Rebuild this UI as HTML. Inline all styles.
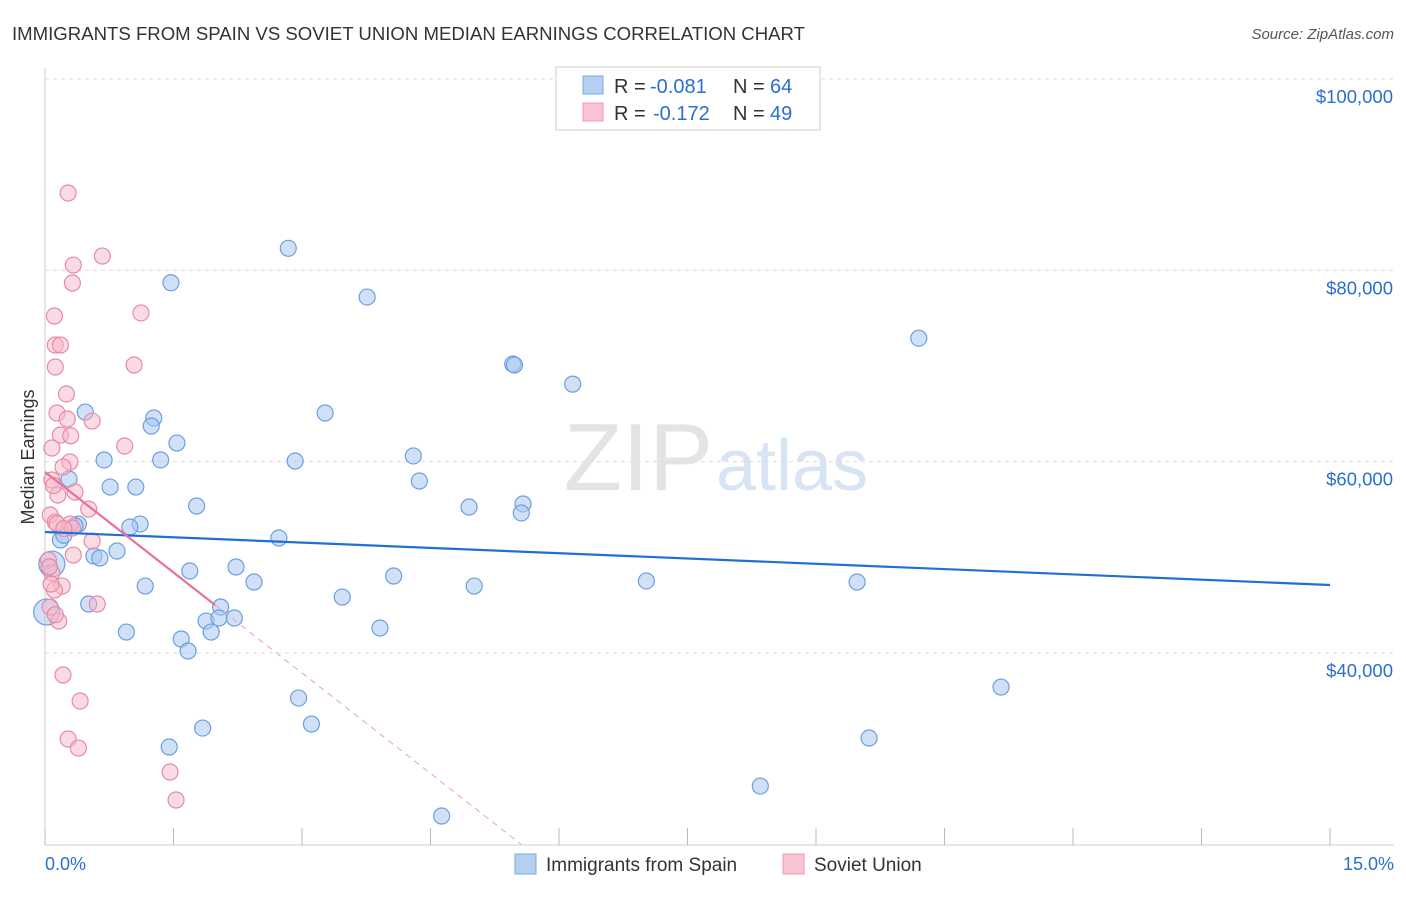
<!DOCTYPE html>
<html><head><meta charset="utf-8"><style>
body{margin:0;background:#fff;font-family:"Liberation Sans",sans-serif}
svg text{font-family:"Liberation Sans",sans-serif}
</style></head><body>
<svg id="c" width="1406" height="892">
<text x="12" y="40" font-size="18" fill="#333" textLength="793" lengthAdjust="spacingAndGlyphs">IMMIGRANTS FROM SPAIN VS SOVIET UNION MEDIAN EARNINGS CORRELATION CHART</text>
<text x="1394" y="39" font-size="15" fill="#555" text-anchor="end" font-style="italic">Source: ZipAtlas.com</text>
<text x="713" y="490" font-size="96" fill="#e4e4e4" text-anchor="end" font-family="Liberation Serif">ZIP</text>
<text x="716" y="490" font-size="72" fill="#d6e4f4">atlas</text>
<text x="34" y="457" font-size="18" fill="#333" text-anchor="middle" transform="rotate(-90 34 457)">Median Earnings</text>
<g id="grid"></g><g id="marks"></g>
<rect x="556" y="67" width="264" height="63" fill="#fff" stroke="#ccc"/>
<rect x="583" y="76" width="20" height="18" fill="#b4cff2" stroke="#7aa8e4"/>
<rect x="583" y="103" width="20" height="18" fill="#f8c4d2" stroke="#ec9ab4"/>
<text x="614" y="93" font-size="20" fill="#333">R =</text>
<text x="650" y="93" font-size="20" fill="#2a6fd0">-0.081</text>
<text x="733" y="93" font-size="20" fill="#333">N =</text>
<text x="770" y="93" font-size="20" fill="#2a6fd0">64</text>
<text x="614" y="120" font-size="20" fill="#333">R =</text>
<text x="653" y="120" font-size="20" fill="#2a6fd0">-0.172</text>
<text x="733" y="120" font-size="20" fill="#333">N =</text>
<text x="770" y="120" font-size="20" fill="#2a6fd0">49</text>
<rect x="515" y="854" width="21" height="20" fill="#b4cff2" stroke="#7aa8e4"/>
<text x="546" y="871" font-size="19" fill="#333">Immigrants from Spain</text>
<rect x="783" y="854" width="21" height="20" fill="#f8c4d2" stroke="#ec9ab4"/>
<text x="814" y="871" font-size="19" fill="#333">Soviet Union</text>
<text x="45" y="870" font-size="18" fill="#2a6fd0">0.0%</text>
<text x="1394" y="870" font-size="18" fill="#2a6fd0" text-anchor="end">15.0%</text>
</svg>
<script>
const yTicks=[100000,80000,60000,40000];
const yTickLabels=["$100,000","$80,000","$60,000","$40,000"];
const xTicks=[0,1.5,3,4.5,6,7.5,9,10.5,12,13.5,15];
const spainX=[2.84,1.47,3.76,10.20,5.46,6.16,0.47,3.27,1.27,1.24,1.54,0.69,1.35,2.92,4.30,4.37,0.76,1.06,0.28,4.95,5.58,5.56,1.77,0.39,1.11,0.99,2.73,0.18,0.08,0.84,0.57,0.64,2.23,1.69,4.07,2.44,1.17,5.01,7.02,9.48,3.47,0.51,2.05,0.02,1.88,2.21,2.03,0.95,1.59,3.91,1.94,1.67,11.16,2.96,3.11,1.84,1.45,9.62,8.35,4.63,5.48,0.22,0.35,0.05];
const spainY=[82300,78700,77200,72900,70200,68100,65180,65080,64560,63720,61940,60170,60170,60060,60590,57970,57340,57340,58180,55250,55570,54630,55360,53470,53470,53160,52010,51800,49290,50650,50130,49920,48980,48560,48040,47410,46990,46990,47520,47410,45840,45110,44800,44280,43330,43650,43650,42180,41450,42600,42180,40200,36430,35280,32560,32140,30160,31100,26080,22950,70100,52300,53300,49000];
const sovietX=[0.27,0.67,0.33,0.32,0.11,1.12,0.12,0.18,0.12,1.04,0.25,0.14,0.26,0.55,0.18,0.93,0.08,0.29,0.21,0.08,0.35,0.15,0.51,0.06,0.12,0.29,0.32,0.55,0.33,0.04,0.08,0.20,0.11,0.61,0.06,0.16,0.21,0.41,0.27,0.39,1.46,1.53,0.10,0.05,0.14,0.30,0.07,0.22,0.12];
const sovietY=[88080,81490,80550,78670,75220,75540,72190,72190,69890,70100,67070,65080,64450,64240,62780,61630,61420,59960,59430,58080,56820,56510,55040,54420,53680,53470,53050,51690,50230,49710,48350,46990,46570,45110,44800,43330,37690,34970,31000,30050,27550,24620,57500,49000,53500,62700,47200,53000,44000];
const spainTrend=[52640,47100];
const sovietTrend=[58910,45010,1.985];
const X=v=>45+v/15*1285, Y=v=>79+(100000-v)/20000*191.3;
const NS="http://www.w3.org/2000/svg";
const g=document.getElementById('grid'), m=document.getElementById('marks');
function mk(p,t,a){const e=document.createElementNS(NS,t);for(const k in a)e.setAttribute(k,a[k]);p.appendChild(e);return e;}
yTicks.forEach((v,i)=>{
 const l=mk(g,'line',{x1:45,x2:1394,y1:Y(v),y2:Y(v),stroke:'#ddd','stroke-dasharray':'4,4'});
 
 
 const t=mk(g,'text',{x:1393,y:Y(v)+24,'font-size':18.5,fill:'#2a6fd0','text-anchor':'end'});t.textContent=yTickLabels[i];
 
 
});
const ax=mk(g,'line',{x1:45,x2:1394,y1:845,y2:845,stroke:'#ccc'});


const ay=mk(g,'line',{x1:45,x2:45,y1:68,y2:845,stroke:'#ccc'});


xTicks.forEach(v=>{const t=mk(g,'line',{x1:X(v),x2:X(v),y1:828,y2:845,stroke:'#bbb'});
 
 });
spainX.forEach((x,i)=>{const big=(i==28||i==43);const c=mk(m,'circle',{cx:X(x),cy:Y(spainY[i]),r:big?13:8,fill:'#a9c8f0','fill-opacity':0.55,stroke:'#6b9fe0','stroke-width':1.2});
 
 });
sovietX.forEach((x,i)=>{const c=mk(m,'circle',{cx:X(x),cy:Y(sovietY[i]),r:8,fill:'#f5b8c8','fill-opacity':0.5,stroke:'#e88aa8','stroke-width':1.2});
 
 });
const bl=mk(m,'line',{x1:X(0),y1:Y(spainTrend[0]),x2:X(15),y2:Y(spainTrend[1]),stroke:'#1f6fd4','stroke-width':2.2});


const slope=(sovietTrend[1]-sovietTrend[0])/sovietTrend[2];
const xEnd=(20000-sovietTrend[0])/slope;
const pd=mk(m,'line',{x1:X(sovietTrend[2]),y1:Y(sovietTrend[1]),x2:X(xEnd),y2:Y(20000),stroke:'#e8a0b8','stroke-width':1,'stroke-dasharray':'6,5'});


const pl=mk(m,'line',{x1:X(0),y1:Y(sovietTrend[0]),x2:X(sovietTrend[2]),y2:Y(sovietTrend[1]),stroke:'#e8709a','stroke-width':2.2});


</script>
</body></html>
